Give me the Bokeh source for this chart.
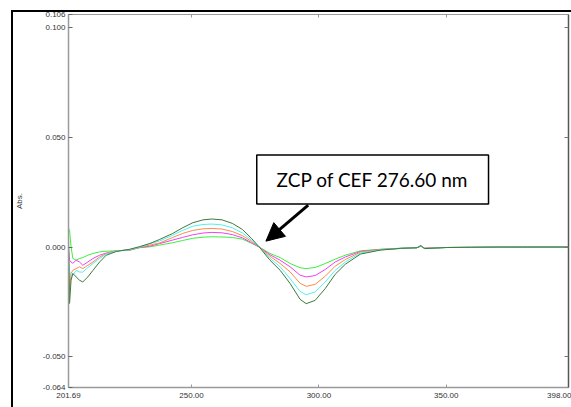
from bokeh.plotting import figure
from bokeh.models import (Range1d, FixedTicker, NumeralTickFormatter, LinearAxis,
                          BoxAnnotation, Label, Arrow, NormalHead)
from bokeh.embed import file_html
from bokeh.resources import INLINE

# ---------------- data ----------------
wavelength = [201.7, 202.1, 202.7, 203.4, 204.7, 206.0, 207.3, 209.3, 211.3, 213.9,
              216.5, 220.5, 225.7, 229.6, 233.6, 237.5, 242.6, 246.5, 250.5, 254.5,
              258.0, 262.0, 266.0, 270.0, 273.5, 276.6, 280.8, 284.8, 288.7, 292.6,
              295.0, 298.5, 302.5, 306.4, 310.4, 316.3, 324.0, 332.0, 338.5, 340.0,
              341.5, 350.0, 360.0, 370.0, 380.0, 390.0, 398.0]

abs_green = [0.0086, 0.0077, 0.0001, -0.0052, -0.0060, -0.0052, -0.0048, -0.0037, -0.0029, -0.0022,
             -0.0019, -0.0017, -0.0014, -0.0003, 0.0001, 0.0009, 0.0020, 0.0030, 0.0040, 0.0045,
             0.0047, 0.0046, 0.0044, 0.0036, 0.0018, 0.0000, -0.0029, -0.0048, -0.0075, -0.0094,
             -0.0098, -0.0093, -0.0075, -0.0055, -0.0037, -0.0017, -0.0010, -0.0005, -0.0003, 0.0004,
             -0.0005, -0.0002, -0.0001, 0.0000, 0.0000, 0.0001, 0.0000]

abs_magenta = [0.0000, -0.0060, -0.0068, -0.0074, -0.0060, -0.0068, -0.0083, -0.0068, -0.0052, -0.0037,
               -0.0027, -0.0017, -0.0014, -0.0002, 0.0004, 0.0016, 0.0032, 0.0044, 0.0056, 0.0064,
               0.0067, 0.0065, 0.0057, 0.0042, 0.0020, 0.0000, -0.0035, -0.0060, -0.0090, -0.0128,
               -0.0136, -0.0130, -0.0102, -0.0068, -0.0045, -0.0020, -0.0011, -0.0006, -0.0003, 0.0004,
               -0.0005, -0.0002, -0.0001, 0.0000, 0.0000, 0.0000, 0.0000]

abs_orange = [-0.0040, -0.0197, -0.0120, -0.0106, -0.0098, -0.0090, -0.0098, -0.0083, -0.0068, -0.0045,
              -0.0029, -0.0017, -0.0013, -0.0001, 0.0009, 0.0019, 0.0044, 0.0062, 0.0076, 0.0083,
              0.0085, 0.0082, 0.0071, 0.0052, 0.0026, 0.0000, -0.0042, -0.0075, -0.0113, -0.0165,
              -0.0179, -0.0170, -0.0133, -0.0087, -0.0057, -0.0023, -0.0012, -0.0006, -0.0003, 0.0005,
              -0.0006, -0.0002, -0.0001, 0.0000, 0.0001, 0.0000, 0.0000]

abs_cyan = [-0.0045, -0.0110, -0.0136, -0.0128, -0.0106, -0.0114, -0.0114, -0.0093, -0.0075, -0.0052,
            -0.0032, -0.0018, -0.0012, 0.0000, 0.0016, 0.0028, 0.0054, 0.0076, 0.0095, 0.0103,
            0.0105, 0.0101, 0.0088, 0.0064, 0.0032, 0.0000, -0.0051, -0.0090, -0.0144, -0.0202,
            -0.0217, -0.0205, -0.0159, -0.0106, -0.0068, -0.0027, -0.0013, -0.0006, -0.0003, 0.0006,
            -0.0007, -0.0002, -0.0001, 0.0000, 0.0000, -0.0001, -0.0001]

abs_dkgreen = [0.0039, -0.0257, -0.0151, -0.0120, -0.0136, -0.0151, -0.0159, -0.0136, -0.0106, -0.0068,
               -0.0037, -0.0020, -0.0010, 0.0002, 0.0016, 0.0035, 0.0062, 0.0088, 0.0111, 0.0124,
               0.0128, 0.0124, 0.0108, 0.0080, 0.0040, 0.0000, -0.0060, -0.0106, -0.0166, -0.0238,
               -0.0258, -0.0243, -0.0189, -0.0124, -0.0078, -0.0032, -0.0014, -0.0006, -0.0003, 0.0007,
               -0.0007, -0.0002, -0.0001, 0.0000, 0.0000, 0.0000, 0.0000]

series = [abs_green, abs_magenta, abs_orange, abs_cyan, abs_dkgreen]
colors = ["#3cf03c", "#f040f0", "#ff8a48", "#4ff0f0", "#3a7a3a"]

x_ticks = [201.69, 250.0, 300.0, 350.0, 398.0]
y_ticks = [-0.064, -0.050, 0.000, 0.050, 0.100, 0.106]
x_start, x_end = 201.69, 398.0
y_start, y_end = -0.064, 0.106

annot_text = "ZCP of CEF 276.60 nm"
box_l, box_r, box_b, box_t = 275.6, 366.6, 0.0196, 0.0420
arrow_from = (295.8, 0.0191)
arrow_to = (279.2, 0.0027)

# ---------------- figure ----------------
frame_css = {
    "background": ("linear-gradient(#000,#000) 11px 10px / 2px 397px no-repeat, "
                   "linear-gradient(#000,#000) 11px 10px / 560px 2px no-repeat, #fff"),
}
p = figure(width=571, height=407, output_backend="svg", toolbar_location=None,
           x_range=Range1d(x_start, x_end), y_range=Range1d(y_start, y_end),
           min_border_left=68, min_border_right=3, min_border_top=14, min_border_bottom=20,
           styles=frame_css)
p.background_fill_color = "white"
p.border_fill_color = None
p.outline_line_color = None
p.xgrid.visible = False
p.ygrid.visible = False

tick_font = "Liberation Sans"

# bottom axis
xa = p.xaxis[0]
xa.ticker = FixedTicker(ticks=x_ticks)
xa.formatter = NumeralTickFormatter(format="0.00")
xa.major_tick_in = 3
xa.major_tick_out = 0
xa.minor_tick_line_color = None
xa.axis_line_color = "#9a9a9a"
xa.axis_line_width = 1.5
xa.major_tick_line_color = "#9a9a9a"
xa.major_label_text_font = tick_font
xa.major_label_text_font_size = "8px"
xa.major_label_text_color = "#333333"
xa.major_label_standoff = 5

# left axis
ya = p.yaxis[0]
ya.ticker = FixedTicker(ticks=y_ticks)
ya.formatter = NumeralTickFormatter(format="0.000")
ya.major_tick_in = 4
ya.major_tick_out = 0
ya.minor_tick_line_color = None
ya.axis_line_color = "#9a9a9a"
ya.axis_line_width = 1.5
ya.major_tick_line_color = "#666666"
ya.major_label_text_font = tick_font
ya.major_label_text_font_size = "8px"
ya.major_label_text_color = "#333333"
ya.major_label_standoff = 3
ya.axis_label = "Abs."
ya.axis_label_text_font = tick_font
ya.axis_label_text_font_size = "8px"
ya.axis_label_text_font_style = "normal"
ya.axis_label_text_color = "#333333"
ya.axis_label_standoff = 16

# top axis (ticks only)
top_ticks = x_ticks[1:4]
top = LinearAxis(ticker=FixedTicker(ticks=top_ticks), major_tick_in=3, major_tick_out=0,
                 minor_tick_line_color=None, axis_line_color="#9a9a9a",
                 major_tick_line_color="#9a9a9a", major_label_standoff=0,
                 major_label_overrides={t: "" for t in top_ticks})
p.add_layout(top, "above")

# right axis (ticks only)
right_ticks = y_ticks[1:5]
right = LinearAxis(ticker=FixedTicker(ticks=right_ticks), major_tick_in=4, major_tick_out=0,
                   minor_tick_line_color=None, axis_line_color="#555555", axis_line_width=1.5,
                   major_tick_line_color="#777777", major_label_standoff=0,
                   major_label_overrides={t: "" for t in right_ticks})
p.add_layout(right, "right")

# curves
for vals, c in zip(series, colors):
    p.line(wavelength, vals, line_color=c, line_width=1)

# annotation box + text
p.add_layout(BoxAnnotation(left=box_l, right=box_r, bottom=box_b, top=box_t,
                           fill_color="white", fill_alpha=1.0, line_color="black",
                           line_width=1.5, line_alpha=1.0))
p.add_layout(Label(x=(box_l + box_r) / 2, y=(box_b + box_t) / 2, text=annot_text,
                   text_align="center", text_baseline="middle", text_font="Lato",
                   text_font_size="19px", text_color="black"))
p.add_layout(Arrow(x_start=arrow_from[0], y_start=arrow_from[1],
                   x_end=arrow_to[0], y_end=arrow_to[1], line_width=3, line_color="black",
                   end=NormalHead(size=18, fill_color="black", line_color="black")))

# x axis title, partly cut off at the window bottom like the reference
p.add_layout(Label(x=300.0, y=y_start, text="nm", text_font=tick_font,
                   text_font_size="8px", text_color="#333333", text_align="center",
                   text_baseline="top", y_offset=-16))

open("out.html", "w").write(file_html(p, INLINE))
